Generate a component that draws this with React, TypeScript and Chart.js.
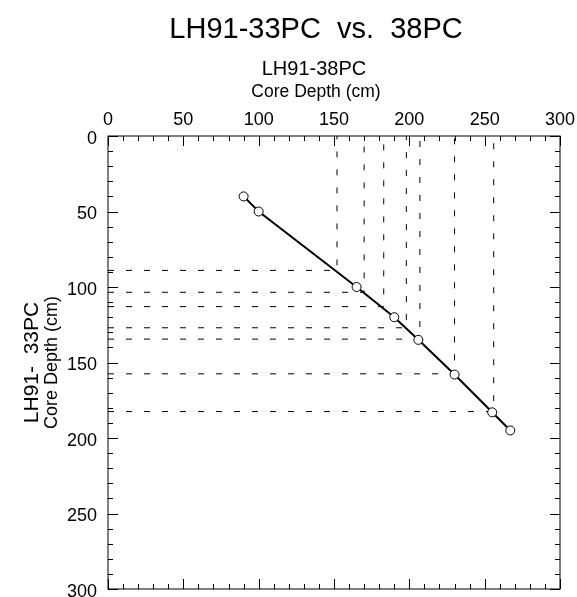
import React, { useEffect, useRef } from 'react';
import { Chart, registerables } from 'chart.js';

Chart.register(...registerables);

// LH91-38PC core depth (x) vs LH91-33PC core depth (y), cm
const core38Depth = [90, 100, 165, 190, 206, 230, 255, 267];
const core33Depth = [40, 50, 100, 120, 135, 158, 183, 195];

// tie points (dashed guide lines)
const tie38 = [152, 170, 183, 198, 207, 230, 256];
const tie33 = [89, 103.5, 113, 127, 134.5, 157.5, 182.5];

const axisMin = 0;
const axisMax = 300;
const majorStep = 50;
const minorStep = 10;

const titleText = 'LH91-33PC  vs.  38PC';
const xTitle1 = 'LH91-38PC';
const xTitle2 = 'Core Depth (cm)';
const yTitle1 = 'LH91-  33PC';
const yTitle2 = 'Core Depth (cm)';

const FONT = '"Liberation Sans", Arial, Helvetica, sans-serif';

const frameTitles = {
  id: 'frameTitles',
  afterDraw(chart: any) {
    const { ctx, chartArea: a, scales } = chart;
    const x = scales.x;
    const y = scales.y;
    ctx.save();
    ctx.strokeStyle = '#000';
    ctx.lineWidth = 1;
    ctx.setLineDash([]);
    ctx.strokeRect(a.left, a.top, a.right - a.left, a.bottom - a.top);
    const seg = (x1: number, y1: number, x2: number, y2: number) => {
      ctx.beginPath();
      ctx.moveTo(x1, y1);
      ctx.lineTo(x2, y2);
      ctx.stroke();
    };
    for (let v = axisMin; v <= axisMax; v += minorStep) {
      const len = v % majorStep === 0 ? 10 : 5;
      const px = Math.round(x.getPixelForValue(v)) + 0.5;
      seg(px, a.top, px, a.top + len);
      seg(px, a.bottom, px, a.bottom - len);
      const py = Math.round(y.getPixelForValue(v)) + 0.5;
      seg(a.left, py, a.left + len, py);
      seg(a.right, py, a.right - len, py);
    }
    ctx.fillStyle = '#000';
    ctx.textAlign = 'center';
    ctx.textBaseline = 'alphabetic';
    ctx.font = `29px ${FONT}`;
    ctx.fillText(titleText, 316, 38);
    ctx.font = `20px ${FONT}`;
    ctx.fillText(xTitle1, 314, 75);
    ctx.font = `17.5px ${FONT}`;
    ctx.fillText(xTitle2, 316, 97);
    const cy = (a.top + a.bottom) / 2;
    ctx.save();
    ctx.translate(38, cy);
    ctx.rotate(-Math.PI / 2);
    ctx.font = `21px ${FONT}`;
    ctx.fillText(yTitle1, 0, 0);
    ctx.restore();
    ctx.save();
    ctx.translate(57, cy);
    ctx.rotate(-Math.PI / 2);
    ctx.font = `18px ${FONT}`;
    ctx.fillText(yTitle2, 0, 0);
    ctx.restore();
    ctx.restore();
  },
};

export default function App() {
  const ref = useRef<HTMLCanvasElement | null>(null);
  useEffect(() => {
    if (!ref.current) return;
    const datasets: any[] = [
      {
        data: core38Depth.map((v, i) => ({ x: v, y: core33Depth[i] })),
        borderColor: '#000',
        borderWidth: 2,
        pointRadius: 4.5,
        pointBackgroundColor: '#fff',
        pointBorderColor: '#000',
        pointBorderWidth: 1,
        tension: 0,
        fill: false,
      },
      ...tie38.map((v, i) => ({
        data: [
          { x: axisMin, y: tie33[i] },
          { x: v, y: tie33[i] },
          { x: v, y: axisMin },
        ],
        borderColor: '#000',
        borderWidth: 1,
        borderDash: [6, 12],
        pointRadius: 0,
        tension: 0,
        fill: false,
      })),
    ];
    const chart = new Chart(ref.current, {
      type: 'line',
      data: { datasets },
      options: {
        animation: false,
        responsive: false,
        devicePixelRatio: 1,
        layout: { padding: { left: 0, top: 0, right: 17, bottom: 8 } },
        plugins: { legend: { display: false }, tooltip: { enabled: false }, title: { display: false } },
        scales: {
          x: {
            type: 'linear',
            position: 'top',
            min: axisMin,
            max: axisMax,
            grid: { display: false, drawTicks: false },
            border: { display: false },
            ticks: {
              stepSize: majorStep,
              color: '#000',
              font: { family: FONT, size: 18 },
              padding: 5,
              maxRotation: 0,
              autoSkip: false,
            },
            afterFit: (s: any) => {
              s.height = 136;
              s.paddingLeft = 0;
              s.paddingRight = 0;
            },
          },
          y: {
            type: 'linear',
            position: 'left',
            reverse: true,
            min: axisMin,
            max: axisMax,
            grid: { display: false, drawTicks: false },
            border: { display: false },
            ticks: {
              stepSize: majorStep,
              color: '#000',
              font: { family: FONT, size: 18 },
              padding: 11,
              labelOffset: 3,
              autoSkip: false,
            },
            afterFit: (s: any) => {
              s.width = 108;
              s.paddingTop = 0;
              s.paddingBottom = 0;
            },
          },
        },
      },
      plugins: [frameTitles],
    });
    return () => chart.destroy();
  }, []);
  return (
    <div style={{ position: 'fixed', left: 0, top: 0, width: 577, height: 597, background: '#fff' }}>
      <canvas ref={ref} width={577} height={597} style={{ width: 577, height: 597 }} />
    </div>
  );
}
